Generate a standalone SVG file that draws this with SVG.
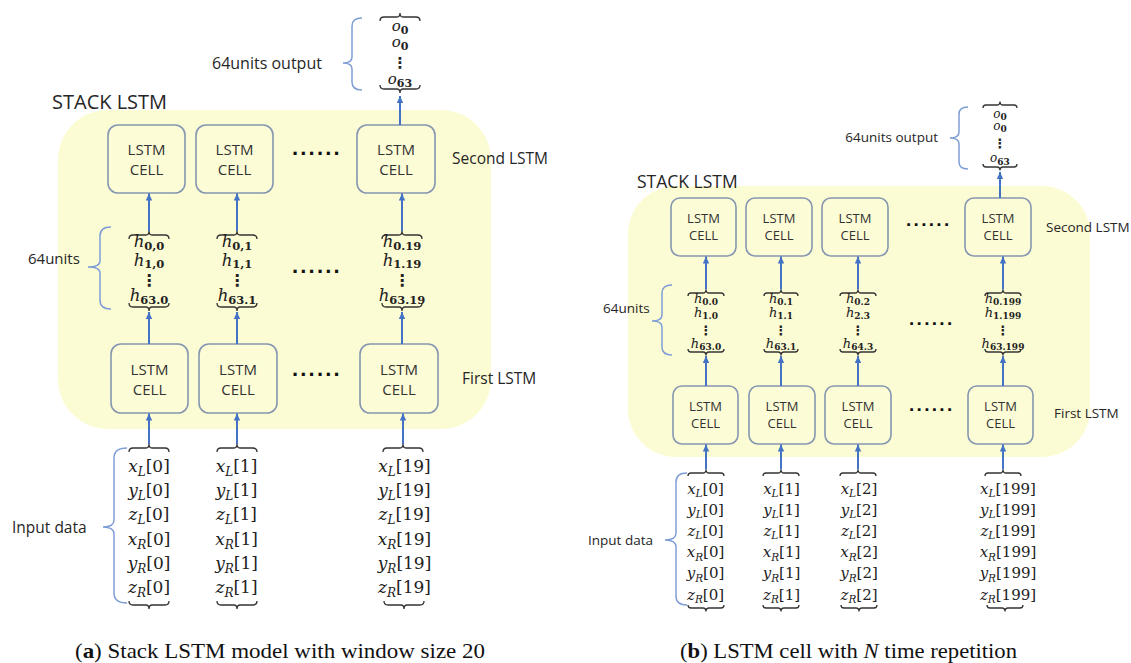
<svg xmlns="http://www.w3.org/2000/svg" width="1131" height="663" viewBox="0 0 1131 663">
<defs>
<marker id="ah" markerUnits="userSpaceOnUse" markerWidth="8" markerHeight="8" refX="7" refY="4" orient="auto">
<path d="M0,0.8 L7,4 L0,7.2 z" fill="#4472C4"/>
</marker>
<style>
.region{fill:#FCFCD4}
.cell rect{fill:#FCFCD6;stroke:#8596B0;stroke-width:1.6}
.lbl{font-family:"Open Sans","Noto Sans",sans-serif;fill:#262626}
.ct{font-family:"Open Sans","Noto Sans",sans-serif;fill:#333;text-anchor:middle}
.m{font-family:"DejaVu Serif",serif;fill:#222;text-anchor:middle}
.i{font-style:italic}
.sb{font-weight:bold}
.ve{font-family:"DejaVu Sans",sans-serif;fill:#222;text-anchor:middle;font-weight:bold}
.brk{fill:none;stroke:#333;stroke-width:1.3}
.curly{fill:none;stroke:#7F9ED6;stroke-width:1.5}
.arr{stroke:#4472C4;stroke-width:2;fill:none;marker-end:url(#ah)}
.dots{font-family:"Liberation Sans",sans-serif;font-weight:bold;fill:#111}
.cap{font-family:"Liberation Serif",serif;fill:#111;font-size:21px}
</style>
</defs>

<!-- ================= PANEL A ================= -->
<g id="a-stack">
<rect class="region" x="58" y="110" width="433" height="319" rx="50"/>
<text class="lbl" x="52" y="108.5" font-size="20">STACK LSTM</text>
</g>

<g id="a-cell2-0" class="cell"><rect x="108" y="125" width="77" height="68" rx="10"/><text class="ct" font-size="15" x="146.5" y="155">LSTM</text><text class="ct" font-size="15" x="146.5" y="175">CELL</text></g>
<g id="a-cell2-1" class="cell"><rect x="196" y="125" width="77" height="68" rx="10"/><text class="ct" font-size="15" x="234.5" y="155">LSTM</text><text class="ct" font-size="15" x="234.5" y="175">CELL</text></g>
<g id="a-cell2-19" class="cell"><rect x="357" y="125" width="78" height="68" rx="10"/><text class="ct" font-size="15" x="396" y="155">LSTM</text><text class="ct" font-size="15" x="396" y="175">CELL</text></g>

<g id="a-cell1-0" class="cell"><rect x="111" y="344" width="77" height="69" rx="10"/><text class="ct" font-size="15" x="149.5" y="374.5">LSTM</text><text class="ct" font-size="15" x="149.5" y="394.5">CELL</text></g>
<g id="a-cell1-1" class="cell"><rect x="199" y="344" width="78" height="69" rx="10"/><text class="ct" font-size="15" x="238" y="374.5">LSTM</text><text class="ct" font-size="15" x="238" y="394.5">CELL</text></g>
<g id="a-cell1-19" class="cell"><rect x="360" y="344" width="78" height="69" rx="10"/><text class="ct" font-size="15" x="399" y="374.5">LSTM</text><text class="ct" font-size="15" x="399" y="394.5">CELL</text></g>

<g id="a-labels">
<text class="lbl" x="452" y="163.5" font-size="15.5">Second LSTM</text>
<text class="lbl" x="462" y="383.5" font-size="15.5">First LSTM</text>
<text class="dots" x="292" y="155" font-size="22" letter-spacing="2.2">......</text>
<text class="dots" x="292" y="273" font-size="22" letter-spacing="2.2">......</text>
<text class="dots" x="292" y="376" font-size="22" letter-spacing="2.2">......</text>
</g>

<g id="a-output">
<text class="lbl" x="212" y="69" font-size="16">64units output</text>
<path class="curly" d="M362 18 Q352 18 352 26 L352 57 Q352 63 343 63 Q352 63 352 69 L352 82 Q352 90 362 90"/>
<path class="brk" d="M380 21 Q380 17 384 17 H397 Q400 17 400 13 Q400 17 403 17 H416 Q420 17 420 21"/>
<text class="m" x="400" y="30.5" font-size="15"><tspan class="i">o</tspan><tspan class="sb" font-size="11" dy="3">0</tspan></text>
<text class="m" x="400" y="46.5" font-size="15"><tspan class="i">o</tspan><tspan class="sb" font-size="11" dy="3">0</tspan></text>
<text class="ve" x="400" y="68" font-size="15">⋮</text>
<text class="m" x="400" y="84" font-size="15"><tspan class="i">o</tspan><tspan class="sb" font-size="11" dy="3">63</tspan></text>
<path class="brk" d="M380 85 Q380 89 384 89 H397 Q400 89 400 93 Q400 89 403 89 H416 Q420 89 420 85"/>
</g>

<g id="a-hidden">
<text class="lbl" x="28" y="264" font-size="15">64units</text>
<path class="curly" d="M111 227 Q100 227 100 236 L100 261 Q100 267 88 267 Q100 267 100 273 L100 300 Q100 309 111 309"/>
<path class="brk" d="M129 239 Q129 235 133 235 H146 Q149 235 149 231 Q149 235 152 235 H165 Q169 235 169 239"/>
<path class="brk" d="M129 303 Q129 307 133 307 H146 Q149 307 149 311 Q149 307 152 307 H165 Q169 307 169 303"/>
<path class="brk" d="M217 239 Q217 235 221 235 H234 Q237 235 237 231 Q237 235 240 235 H253 Q257 235 257 239"/>
<path class="brk" d="M217 303 Q217 307 221 307 H234 Q237 307 237 311 Q237 307 240 307 H253 Q257 307 257 303"/>
<path class="brk" d="M382 239 Q382 235 386 235 H399 Q402 235 402 231 Q402 235 405 235 H418 Q422 235 422 239"/>
<path class="brk" d="M382 303 Q382 307 386 307 H399 Q402 307 402 311 Q402 307 405 307 H418 Q422 307 422 303"/>
<g font-size="16.5">
<text class="m" x="149" y="247"><tspan class="i">h</tspan><tspan class="sb" font-size="11.5" dy="2.5">0,0</tspan></text>
<text class="m" x="149" y="265.5"><tspan class="i">h</tspan><tspan class="sb" font-size="11.5" dy="2.5">1,0</tspan></text>
<text class="ve" x="149" y="286" font-size="16">⋮</text>
<text class="m" x="149" y="301"><tspan class="i">h</tspan><tspan class="sb" font-size="11.5" dy="2.5">63.0</tspan></text>
<text class="m" x="237" y="247"><tspan class="i">h</tspan><tspan class="sb" font-size="11.5" dy="2.5">0,1</tspan></text>
<text class="m" x="237" y="265.5"><tspan class="i">h</tspan><tspan class="sb" font-size="11.5" dy="2.5">1,1</tspan></text>
<text class="ve" x="237" y="286" font-size="16">⋮</text>
<text class="m" x="237" y="301"><tspan class="i">h</tspan><tspan class="sb" font-size="11.5" dy="2.5">63.1</tspan></text>
<text class="m" x="402" y="247"><tspan class="i">h</tspan><tspan class="sb" font-size="11.5" dy="2.5">0.19</tspan></text>
<text class="m" x="402" y="265.5"><tspan class="i">h</tspan><tspan class="sb" font-size="11.5" dy="2.5">1.19</tspan></text>
<text class="ve" x="402" y="286" font-size="16">⋮</text>
<text class="m" x="402" y="301"><tspan class="i">h</tspan><tspan class="sb" font-size="11.5" dy="2.5">63.19</tspan></text>
</g>
</g>

<g id="a-input">
<text class="lbl" x="12" y="532.5" font-size="15.5">Input data</text>
<path class="curly" d="M127 448 Q114 448 114 458 L114 520 Q114 527 103 527 Q114 527 114 534 L114 593 Q114 603 127 603"/>
<path class="brk" d="M129 452 Q129 448 133 448 H146 Q149 448 149 444 Q149 448 152 448 H165 Q169 448 169 452"/>
<path class="brk" d="M129 601 Q129 605 133 605 H146 Q149 605 149 609 Q149 605 152 605 H165 Q169 605 169 601"/>
<path class="brk" d="M217 452 Q217 448 221 448 H234 Q237 448 237 444 Q237 448 240 448 H253 Q257 448 257 452"/>
<path class="brk" d="M217 601 Q217 605 221 605 H234 Q237 605 237 609 Q237 605 240 605 H253 Q257 605 257 601"/>
<path class="brk" d="M383 452 Q383 448 387 448 H400 Q403 448 403 444 Q403 448 406 448 H419 Q423 448 423 452"/>
<path class="brk" d="M384 601 Q384 605 388 605 H401 Q404 605 404 609 Q404 605 407 605 H420 Q424 605 424 601"/>
<g font-size="17">
<text class="m" x="149" y="472"><tspan class="i">x</tspan><tspan class="i" font-size="12" dy="4">L</tspan><tspan dy="-4">[0]</tspan></text>
<text class="m" x="149" y="496"><tspan class="i">y</tspan><tspan class="i" font-size="12" dy="4">L</tspan><tspan dy="-4">[0]</tspan></text>
<text class="m" x="149" y="520"><tspan class="i">z</tspan><tspan class="i" font-size="12" dy="4">L</tspan><tspan dy="-4">[0]</tspan></text>
<text class="m" x="149" y="544.5"><tspan class="i">x</tspan><tspan class="i" font-size="12" dy="4">R</tspan><tspan dy="-4">[0]</tspan></text>
<text class="m" x="149" y="569"><tspan class="i">y</tspan><tspan class="i" font-size="12" dy="4">R</tspan><tspan dy="-4">[0]</tspan></text>
<text class="m" x="149" y="593"><tspan class="i">z</tspan><tspan class="i" font-size="12" dy="4">R</tspan><tspan dy="-4">[0]</tspan></text>
<text class="m" x="236.5" y="472"><tspan class="i">x</tspan><tspan class="i" font-size="12" dy="4">L</tspan><tspan dy="-4">[1]</tspan></text>
<text class="m" x="236.5" y="496"><tspan class="i">y</tspan><tspan class="i" font-size="12" dy="4">L</tspan><tspan dy="-4">[1]</tspan></text>
<text class="m" x="236.5" y="520"><tspan class="i">z</tspan><tspan class="i" font-size="12" dy="4">L</tspan><tspan dy="-4">[1]</tspan></text>
<text class="m" x="236.5" y="544.5"><tspan class="i">x</tspan><tspan class="i" font-size="12" dy="4">R</tspan><tspan dy="-4">[1]</tspan></text>
<text class="m" x="236.5" y="569"><tspan class="i">y</tspan><tspan class="i" font-size="12" dy="4">R</tspan><tspan dy="-4">[1]</tspan></text>
<text class="m" x="236.5" y="593"><tspan class="i">z</tspan><tspan class="i" font-size="12" dy="4">R</tspan><tspan dy="-4">[1]</tspan></text>
<text class="m" x="404.5" y="472"><tspan class="i">x</tspan><tspan class="i" font-size="12" dy="4">L</tspan><tspan dy="-4">[19]</tspan></text>
<text class="m" x="404.5" y="496"><tspan class="i">y</tspan><tspan class="i" font-size="12" dy="4">L</tspan><tspan dy="-4">[19]</tspan></text>
<text class="m" x="404.5" y="520"><tspan class="i">z</tspan><tspan class="i" font-size="12" dy="4">L</tspan><tspan dy="-4">[19]</tspan></text>
<text class="m" x="404.5" y="544.5"><tspan class="i">x</tspan><tspan class="i" font-size="12" dy="4">R</tspan><tspan dy="-4">[19]</tspan></text>
<text class="m" x="404.5" y="569"><tspan class="i">y</tspan><tspan class="i" font-size="12" dy="4">R</tspan><tspan dy="-4">[19]</tspan></text>
<text class="m" x="404.5" y="593"><tspan class="i">z</tspan><tspan class="i" font-size="12" dy="4">R</tspan><tspan dy="-4">[19]</tspan></text>
</g>
</g>

<!-- ================= PANEL B ================= -->
<g id="b-stack">
<rect class="region" x="628" y="186" width="462" height="271" rx="48"/>
<text class="lbl" x="637" y="188" font-size="17.5">STACK LSTM</text>
</g>

<g id="b-cell2-0" class="cell"><rect x="671" y="198" width="65" height="58" rx="9"/><text class="ct" font-size="13" x="703.5" y="222.5">LSTM</text><text class="ct" font-size="13" x="703.5" y="239.5">CELL</text></g>
<g id="b-cell2-1" class="cell"><rect x="746" y="198" width="66" height="58" rx="9"/><text class="ct" font-size="13" x="779" y="222.5">LSTM</text><text class="ct" font-size="13" x="779" y="239.5">CELL</text></g>
<g id="b-cell2-2" class="cell"><rect x="822" y="198" width="66" height="58" rx="9"/><text class="ct" font-size="13" x="855" y="222.5">LSTM</text><text class="ct" font-size="13" x="855" y="239.5">CELL</text></g>
<g id="b-cell2-199" class="cell"><rect x="965" y="198" width="66" height="58" rx="9"/><text class="ct" font-size="13" x="998" y="222.5">LSTM</text><text class="ct" font-size="13" x="998" y="239.5">CELL</text></g>

<g id="b-cell1-0" class="cell"><rect x="673" y="386" width="65" height="58" rx="9"/><text class="ct" font-size="13" x="705.5" y="410.5">LSTM</text><text class="ct" font-size="13" x="705.5" y="427.5">CELL</text></g>
<g id="b-cell1-1" class="cell"><rect x="749" y="386" width="66" height="58" rx="9"/><text class="ct" font-size="13" x="782" y="410.5">LSTM</text><text class="ct" font-size="13" x="782" y="427.5">CELL</text></g>
<g id="b-cell1-2" class="cell"><rect x="825" y="386" width="66" height="58" rx="9"/><text class="ct" font-size="13" x="858" y="410.5">LSTM</text><text class="ct" font-size="13" x="858" y="427.5">CELL</text></g>
<g id="b-cell1-199" class="cell"><rect x="968" y="386" width="65" height="58" rx="9"/><text class="ct" font-size="13" x="1000.5" y="410.5">LSTM</text><text class="ct" font-size="13" x="1000.5" y="427.5">CELL</text></g>

<g id="b-labels">
<text class="lbl" x="1046" y="232" font-size="13.5">Second LSTM</text>
<text class="lbl" x="1054" y="418" font-size="13.5">First LSTM</text>
<text class="dots" x="906" y="226" font-size="19" letter-spacing="2.3">......</text>
<text class="dots" x="909" y="325" font-size="19" letter-spacing="2.3">......</text>
<text class="dots" x="909" y="411" font-size="19" letter-spacing="2.3">......</text>
</g>

<g id="b-output">
<text class="lbl" x="938" y="142" font-size="13.5" text-anchor="end">64units output</text>
<path class="curly" d="M968 107 Q959 107 959 114 L959 132 Q959 138 950 138 Q959 138 959 144 L959 162 Q959 169 968 169"/>
<path class="brk" d="M983 108 Q983 105 986 105 H997 Q1000 105 1000 101.5 Q1000 105 1003 105 H1014 Q1017 105 1017 108"/>
<text class="m" x="1000" y="117.5" font-size="12"><tspan class="i">o</tspan><tspan class="sb" font-size="9" dy="2.5">0</tspan></text>
<text class="m" x="1000" y="129.5" font-size="12"><tspan class="i">o</tspan><tspan class="sb" font-size="9" dy="2.5">0</tspan></text>
<text class="ve" x="1000" y="148" font-size="13">⋮</text>
<text class="m" x="1000" y="162" font-size="12"><tspan class="i">o</tspan><tspan class="sb" font-size="9" dy="2.5">63</tspan></text>
<path class="brk" d="M983 164 Q983 167 986 167 H997 Q1000 167 1000 170.5 Q1000 167 1003 167 H1014 Q1017 167 1017 164"/>
</g>

<g id="b-hidden">
<text class="lbl" x="603" y="313" font-size="13.5">64units</text>
<path class="curly" d="M672 285 Q662 285 662 293 L662 315 Q662 321 652 321 Q662 321 662 327 L662 347 Q662 355 672 355"/>
<path class="brk" d="M688 296 Q688 293 691 293 H703 Q706 293 706 289.5 Q706 293 709 293 H721 Q724 293 724 296"/>
<path class="brk" d="M688 349 Q688 352 691 352 H703 Q706 352 706 355.5 Q706 352 709 352 H721 Q724 352 724 349"/>
<path class="brk" d="M764 296 Q764 293 767 293 H778 Q781 293 781 289.5 Q781 293 784 293 H795 Q798 293 798 296"/>
<path class="brk" d="M764 349 Q764 352 767 352 H778 Q781 352 781 355.5 Q781 352 784 352 H795 Q798 352 798 349"/>
<path class="brk" d="M840 296 Q840 293 843 293 H855 Q858 293 858 289.5 Q858 293 861 293 H873 Q876 293 876 296"/>
<path class="brk" d="M840 349 Q840 352 843 352 H855 Q858 352 858 355.5 Q858 352 861 352 H873 Q876 352 876 349"/>
<path class="brk" d="M985 296 Q985 293 988 293 H1000 Q1003 293 1003 289.5 Q1003 293 1006 293 H1018 Q1021 293 1021 296"/>
<path class="brk" d="M985 349 Q985 352 988 352 H1000 Q1003 352 1003 355.5 Q1003 352 1006 352 H1018 Q1021 352 1021 349"/>
<g font-size="13">
<text class="m" x="706" y="302.5"><tspan class="i">h</tspan><tspan class="sb" font-size="9" dy="2">0.0</tspan></text>
<text class="m" x="706" y="317"><tspan class="i">h</tspan><tspan class="sb" font-size="9" dy="2">1.0</tspan></text>
<text class="ve" x="706" y="335" font-size="13">⋮</text>
<text class="m" x="706" y="347.5"><tspan class="i">h</tspan><tspan class="sb" font-size="9" dy="2">63.0</tspan></text>
<text class="m" x="781" y="302.5"><tspan class="i">h</tspan><tspan class="sb" font-size="9" dy="2">0.1</tspan></text>
<text class="m" x="781" y="317"><tspan class="i">h</tspan><tspan class="sb" font-size="9" dy="2">1.1</tspan></text>
<text class="ve" x="781" y="335" font-size="13">⋮</text>
<text class="m" x="781" y="347.5"><tspan class="i">h</tspan><tspan class="sb" font-size="9" dy="2">63.1</tspan></text>
<text class="m" x="858" y="302.5"><tspan class="i">h</tspan><tspan class="sb" font-size="9" dy="2">0.2</tspan></text>
<text class="m" x="858" y="317"><tspan class="i">h</tspan><tspan class="sb" font-size="9" dy="2">2.3</tspan></text>
<text class="ve" x="858" y="335" font-size="13">⋮</text>
<text class="m" x="858" y="347.5"><tspan class="i">h</tspan><tspan class="sb" font-size="9" dy="2">64.3</tspan></text>
<text class="m" x="1003" y="302.5"><tspan class="i">h</tspan><tspan class="sb" font-size="9" dy="2">0.199</tspan></text>
<text class="m" x="1003" y="317"><tspan class="i">h</tspan><tspan class="sb" font-size="9" dy="2">1.199</tspan></text>
<text class="ve" x="1003" y="335" font-size="13">⋮</text>
<text class="m" x="1003" y="347.5"><tspan class="i">h</tspan><tspan class="sb" font-size="9" dy="2">63.199</tspan></text>
</g>
</g>

<g id="b-input">
<text class="lbl" x="588" y="545" font-size="13.5">Input data</text>
<path class="curly" d="M687 473 Q676 473 676 482 L676 533 Q676 540 665 540 Q676 540 676 547 L676 596 Q676 605 687 605"/>
<path class="brk" d="M688 476 Q688 473 691 473 H703 Q706 473 706 469.5 Q706 473 709 473 H721 Q724 473 724 476"/>
<path class="brk" d="M688 605 Q688 608 691 608 H703 Q706 608 706 611.5 Q706 608 709 608 H721 Q724 608 724 605"/>
<path class="brk" d="M763 476 Q763 473 766 473 H778 Q781 473 781 469.5 Q781 473 784 473 H796 Q799 473 799 476"/>
<path class="brk" d="M763 605 Q763 608 766 608 H778 Q781 608 781 611.5 Q781 608 784 608 H796 Q799 608 799 605"/>
<path class="brk" d="M840 476 Q840 473 843 473 H855 Q858 473 858 469.5 Q858 473 861 473 H873 Q876 473 876 476"/>
<path class="brk" d="M841 605 Q841 608 844 608 H856 Q859 608 859 611.5 Q859 608 862 608 H874 Q877 608 877 605"/>
<path class="brk" d="M985 476 Q985 473 988 473 H1000 Q1003 473 1003 469.5 Q1003 473 1006 473 H1018 Q1021 473 1021 476"/>
<path class="brk" d="M987 605 Q987 608 990 608 H1002 Q1005 608 1005 611.5 Q1005 608 1008 608 H1020 Q1023 608 1023 605"/>
<g font-size="15">
<text class="m" x="705.5" y="493.5"><tspan class="i">x</tspan><tspan class="i" font-size="10.5" dy="3.5">L</tspan><tspan dy="-3.5">[0]</tspan></text>
<text class="m" x="705.5" y="514.7"><tspan class="i">y</tspan><tspan class="i" font-size="10.5" dy="3.5">L</tspan><tspan dy="-3.5">[0]</tspan></text>
<text class="m" x="705.5" y="535.9"><tspan class="i">z</tspan><tspan class="i" font-size="10.5" dy="3.5">L</tspan><tspan dy="-3.5">[0]</tspan></text>
<text class="m" x="705.5" y="557.1"><tspan class="i">x</tspan><tspan class="i" font-size="10.5" dy="3.5">R</tspan><tspan dy="-3.5">[0]</tspan></text>
<text class="m" x="705.5" y="578.3"><tspan class="i">y</tspan><tspan class="i" font-size="10.5" dy="3.5">R</tspan><tspan dy="-3.5">[0]</tspan></text>
<text class="m" x="705.5" y="599.5"><tspan class="i">z</tspan><tspan class="i" font-size="10.5" dy="3.5">R</tspan><tspan dy="-3.5">[0]</tspan></text>
<text class="m" x="781.5" y="493.5"><tspan class="i">x</tspan><tspan class="i" font-size="10.5" dy="3.5">L</tspan><tspan dy="-3.5">[1]</tspan></text>
<text class="m" x="781.5" y="514.7"><tspan class="i">y</tspan><tspan class="i" font-size="10.5" dy="3.5">L</tspan><tspan dy="-3.5">[1]</tspan></text>
<text class="m" x="781.5" y="535.9"><tspan class="i">z</tspan><tspan class="i" font-size="10.5" dy="3.5">L</tspan><tspan dy="-3.5">[1]</tspan></text>
<text class="m" x="781.5" y="557.1"><tspan class="i">x</tspan><tspan class="i" font-size="10.5" dy="3.5">R</tspan><tspan dy="-3.5">[1]</tspan></text>
<text class="m" x="781.5" y="578.3"><tspan class="i">y</tspan><tspan class="i" font-size="10.5" dy="3.5">R</tspan><tspan dy="-3.5">[1]</tspan></text>
<text class="m" x="781.5" y="599.5"><tspan class="i">z</tspan><tspan class="i" font-size="10.5" dy="3.5">R</tspan><tspan dy="-3.5">[1]</tspan></text>
<text class="m" x="859" y="493.5"><tspan class="i">x</tspan><tspan class="i" font-size="10.5" dy="3.5">L</tspan><tspan dy="-3.5">[2]</tspan></text>
<text class="m" x="859" y="514.7"><tspan class="i">y</tspan><tspan class="i" font-size="10.5" dy="3.5">L</tspan><tspan dy="-3.5">[2]</tspan></text>
<text class="m" x="859" y="535.9"><tspan class="i">z</tspan><tspan class="i" font-size="10.5" dy="3.5">L</tspan><tspan dy="-3.5">[2]</tspan></text>
<text class="m" x="859" y="557.1"><tspan class="i">x</tspan><tspan class="i" font-size="10.5" dy="3.5">R</tspan><tspan dy="-3.5">[2]</tspan></text>
<text class="m" x="859" y="578.3"><tspan class="i">y</tspan><tspan class="i" font-size="10.5" dy="3.5">R</tspan><tspan dy="-3.5">[2]</tspan></text>
<text class="m" x="859" y="599.5"><tspan class="i">z</tspan><tspan class="i" font-size="10.5" dy="3.5">R</tspan><tspan dy="-3.5">[2]</tspan></text>
<text class="m" x="1008" y="493.5"><tspan class="i">x</tspan><tspan class="i" font-size="10.5" dy="3.5">L</tspan><tspan dy="-3.5">[199]</tspan></text>
<text class="m" x="1008" y="514.7"><tspan class="i">y</tspan><tspan class="i" font-size="10.5" dy="3.5">L</tspan><tspan dy="-3.5">[199]</tspan></text>
<text class="m" x="1008" y="535.9"><tspan class="i">z</tspan><tspan class="i" font-size="10.5" dy="3.5">L</tspan><tspan dy="-3.5">[199]</tspan></text>
<text class="m" x="1008" y="557.1"><tspan class="i">x</tspan><tspan class="i" font-size="10.5" dy="3.5">R</tspan><tspan dy="-3.5">[199]</tspan></text>
<text class="m" x="1008" y="578.3"><tspan class="i">y</tspan><tspan class="i" font-size="10.5" dy="3.5">R</tspan><tspan dy="-3.5">[199]</tspan></text>
<text class="m" x="1008" y="599.5"><tspan class="i">z</tspan><tspan class="i" font-size="10.5" dy="3.5">R</tspan><tspan dy="-3.5">[199]</tspan></text>
</g>
</g>

<!-- ================= CONNECTORS ================= -->
<g id="connectors">
<line class="arr" x1="400" y1="125" x2="400" y2="96"/>
<line class="arr" x1="149" y1="231" x2="149" y2="193.5"/>
<line class="arr" x1="237" y1="231" x2="237" y2="193.5"/>
<line class="arr" x1="402" y1="231" x2="402" y2="193.5"/>
<line class="arr" x1="149" y1="344" x2="149" y2="312"/>
<line class="arr" x1="237" y1="344" x2="237" y2="312"/>
<line class="arr" x1="402" y1="344" x2="402" y2="312"/>
<line class="arr" x1="149" y1="444" x2="149" y2="413.5"/>
<line class="arr" x1="237" y1="444" x2="237" y2="413.5"/>
<line class="arr" x1="403" y1="444" x2="403" y2="413.5"/>

<line class="arr" x1="1000" y1="198" x2="1000" y2="172"/>
<line class="arr" x1="706" y1="289.5" x2="706" y2="256.5"/>
<line class="arr" x1="781" y1="289.5" x2="781" y2="256.5"/>
<line class="arr" x1="858" y1="289.5" x2="858" y2="256.5"/>
<line class="arr" x1="1003" y1="289.5" x2="1003" y2="256.5"/>
<line class="arr" x1="706" y1="386" x2="706" y2="356"/>
<line class="arr" x1="781" y1="386" x2="781" y2="356"/>
<line class="arr" x1="858" y1="386" x2="858" y2="356"/>
<line class="arr" x1="1003" y1="386" x2="1003" y2="356"/>
<line class="arr" x1="706" y1="469.5" x2="706" y2="444.5"/>
<line class="arr" x1="781" y1="469.5" x2="781" y2="444.5"/>
<line class="arr" x1="858" y1="469.5" x2="858" y2="444.5"/>
<line class="arr" x1="1003" y1="469.5" x2="1003" y2="444.5"/>
</g>

<g id="captions">
<text class="cap" x="75" y="658" textLength="410" lengthAdjust="spacingAndGlyphs">(<tspan font-weight="bold">a</tspan>) Stack LSTM model with window size 20</text>
<text class="cap" x="680" y="658" textLength="337" lengthAdjust="spacingAndGlyphs">(<tspan font-weight="bold">b</tspan>) LSTM cell with <tspan font-style="italic">N</tspan> time repetition</text>
</g>
</svg>
